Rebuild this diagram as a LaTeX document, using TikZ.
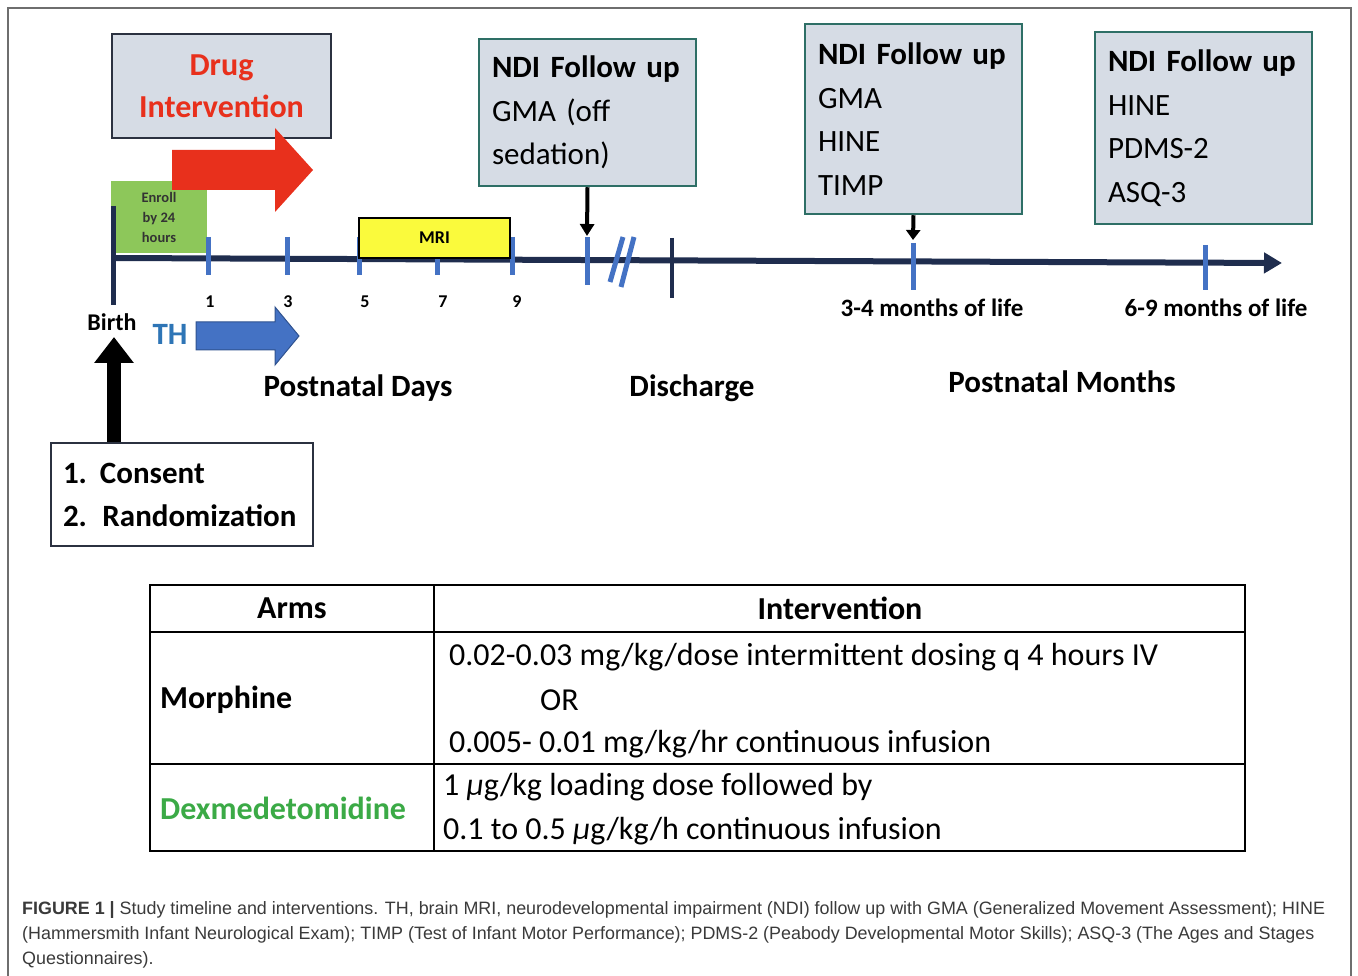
\documentclass[tikz,border=0pt]{standalone}
\usepackage{fontspec}
\setmainfont{Carlito}
\newfontfamily\capfont{Liberation Sans}
\usetikzlibrary{arrows.meta,positioning}
\definecolor{boxgray}{HTML}{D6DCE5}
\definecolor{tealedge}{HTML}{2E6F66}
\definecolor{drugedge}{HTML}{2B3140}
\definecolor{navy}{HTML}{1F2D4E}
\definecolor{tickblue}{HTML}{4472C4}
\definecolor{thedge}{HTML}{2F528F}
\definecolor{drugred}{HTML}{E8301C}
\definecolor{enrollgreen}{HTML}{8DC75A}
\definecolor{mriyellow}{HTML}{FAFA3C}
\definecolor{thblue}{HTML}{2E75B6}
\definecolor{dexgreen}{HTML}{3BAA46}
\definecolor{capgray}{HTML}{3A3A3A}
\definecolor{framegray}{HTML}{6E6E6E}

\begin{document}
\begin{tikzpicture}[x=1pt,y=-1pt,
    ndibox/.style={draw=tealedge,line width=2.5pt,fill=boxgray,align=left,text width=191pt,
      inner xsep=13pt,font=\fontsize{31}{43.5}\selectfont},
    daytick/.style={draw=tickblue,line width=5pt},
    daynum/.style={font=\fontsize{18}{20}\selectfont\bfseries},
    biglabel/.style={font=\fontsize{31}{36}\selectfont\bfseries},
    lifelabel/.style={font=\fontsize{25}{30}\selectfont\bfseries},
    tableline/.style={draw=black,line width=2.8pt},
    cell/.style={anchor=west,inner sep=0pt,font=\fontsize{32}{38}\selectfont},
    headcell/.style={inner sep=0pt,font=\fontsize{32}{38}\selectfont\bfseries},
    >=Triangle
]
\useasboundingbox (0,0) rectangle (1358,976);
% outer frame of the figure
\draw[framegray,line width=1.5pt] (8,976) -- (8,8) -- (1351,8) -- (1351,976);

% boxes above the time line
\node[draw=drugedge,line width=2.5pt,fill=boxgray,minimum width=219pt,minimum height=104pt,align=center,
      text=drugred,font=\fontsize{32}{42}\selectfont\bfseries] (drug) at (221.5,86) {Drug\\Intervention};
\node[ndibox,minimum height=147pt] (ndiA) at (587.5,112.5) {\textbf{NDI Follow up}\\GMA (off\\sedation)};
\node[ndibox,minimum height=190pt] (ndiB) at (913.5,119) {\textbf{NDI Follow up}\\GMA\\HINE\\TIMP};
\node[ndibox,minimum height=192pt] (ndiC) at (1203.5,128) {\textbf{NDI Follow up}\\HINE\\PDMS-2\\ASQ-3};
\node[fill=enrollgreen,minimum width=96pt,minimum height=72pt,align=center,text=black!80,
      font=\fontsize{14.5}{20}\selectfont\bfseries] (enroll) at (159,217) {Enroll\\by 24\\hours};

% drug arrow
\fill[drugred] (172,150) -- (275,150) -- (275,128) -- (313,170) -- (275,212) -- (275,190) -- (172,190) -- cycle;

% time line
\coordinate (axstart) at (113,258);
\coordinate (axend) at (1282,263);
\draw[navy,line width=6pt,-{Triangle[width=20pt,length=18pt]}] (axstart) -- (axend);
\draw[navy,line width=5pt] (113,206) -- (113,305);
\foreach \x/\d/\lx in {208/1/210,287/3/288,359/5/365,437/7/443,512/9/517}{
  \draw[daytick] (\x,237) -- (\x,275);
  \node[daynum] (day\d) at (\lx,302) {\d};
}
\node[draw=black,line width=2.8pt,fill=mriyellow,minimum width=151pt,minimum height=40pt,
      font=\fontsize{18}{20}\selectfont\bfseries] (mri) at (434.5,238) {MRI};
\coordinate (tF) at (587,236);
\draw[daytick] (587,237) -- (587,285);
\draw[tickblue,line width=5pt] (623,237) -- (610,282);
\draw[tickblue,line width=5pt] (634,237) -- (621,287);
\draw[navy,line width=4pt] (672,238) -- (672,298);
\coordinate (tM3) at (913,240);
\draw[daytick] (913,243) -- (913,290);
\draw[daytick] (1205,245) -- (1205,290);

% follow up arrows
\draw[-{Triangle[width=14pt,length=12pt]},line width=4pt] (ndiA.south) -- (tF);
\draw[-{Triangle[width=14pt,length=10pt]},line width=4pt] (ndiB.south) -- (tM3);

% labels under the time line
\node[font=\fontsize{24}{28}\selectfont\bfseries] (birth) at (112,322) {Birth};
\node[text=thblue,biglabel] (th) at (170,334) {TH};
\filldraw[fill=tickblue,draw=thedge,line width=1pt] (196,322) -- (275,322) -- (275,307) -- (299,336)
  -- (275,365) -- (275,350) -- (196,350) -- cycle;
\node[lifelabel] (m34) at (932,308) {3-4 months of life};
\node[lifelabel] (m69) at (1216,308) {6-9 months of life};
\node[biglabel] (pdays) at (358,388) {Postnatal Days};
\node[biglabel] (disch) at (692,388) {Discharge};
\node[biglabel] (pmonths) at (1062,382) {Postnatal Months};

% consent and randomization
\node[draw=drugedge,line width=2.5pt,fill=white,minimum height=103pt,align=left,text width=238pt,
      inner xsep=12pt,font=\fontsize{31}{43}\selectfont\bfseries] (consent) at (182,494.5)
      {1.\hspace{13pt}Consent\\2. Randomization};
\draw[line width=14pt,-{Triangle[width=38pt,length=26pt]}] (consent.north -| 114,0) -- (114,337);

% table of arms
\draw[tableline] (150,585) rectangle (1245,851);
\draw[tableline] (434,585) -- (434,851);
\draw[tableline] (150,632) -- (1245,632);
\draw[tableline] (150,764) -- (1245,764);
\node[headcell] (arms) at (292,608) {Arms};
\node[headcell] (interv) at (840,608) {Intervention};
\node[cell,font=\fontsize{32}{38}\selectfont\bfseries] (morph) at (160,700) {Morphine};
\node[cell] (morA) at (449,657) {0.02-0.03 mg/kg/dose intermittent dosing q 4 hours IV};
\node[cell] (morOr) at (540,700) {OR};
\node[cell] (morB) at (449,744) {0.005- 0.01 mg/kg/hr continuous infusion};
\node[cell,text=dexgreen,font=\fontsize{32}{38}\selectfont\bfseries] (dex) at (160,808) {Dexmedetomidine};
\node[cell] (dexA) at (443,787) {1 {\itshape μ}g/kg loading dose followed by};
\node[cell] (dexB) at (443,831) {0.1 to 0.5 {\itshape μ}g/kg/h continuous infusion};

% caption
\node[anchor=north west,inner sep=0pt,align=left,text=capgray,
      font=\capfont\fontsize{17.9}{25}\selectfont] (caption) at (22,901)
  {\textbf{FIGURE 1 |} Study timeline and interventions. TH, brain MRI, neurodevelopmental impairment (NDI) follow up with GMA (Generalized Movement Assessment); HINE\\
   (Hammersmith Infant Neurological Exam); TIMP (Test of Infant Motor Performance); PDMS-2 (Peabody Developmental Motor Skills); ASQ-3 (The Ages and Stages\\
   Questionnaires).};
\end{tikzpicture}
\end{document}
